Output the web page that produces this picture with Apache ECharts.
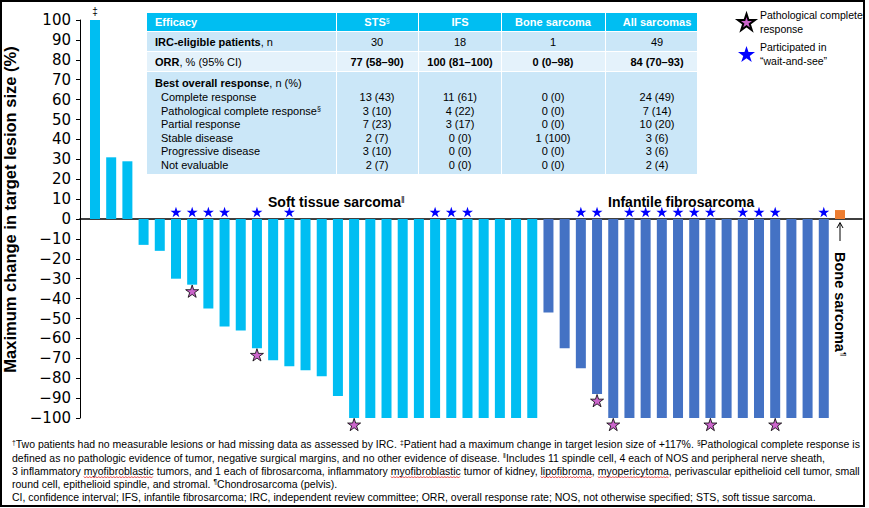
<!DOCTYPE html>
<html><head><meta charset="utf-8">
<script src="https://cdn.jsdelivr.net/npm/echarts@6/dist/echarts.min.js"></script>
<style>html,body{margin:0;padding:0;background:#fff}#c{width:869px;height:508px}</style>
</head><body><div id="c"></div><script>
// ---------- data ----------
const stsChange = [117, 31, 29, -13, -16, -30, -33, -45, -54, -56, -65, -71, -74, -76, -79, -89,
  -100, -100, -100, -100, -100, -100, -100, -100, -100, -100, -100, -100];
const ifsChange = [-47, -65, -75, -88, -100, -100, -100, -100, -100, -100, -100, -100, -100, -100,
  -100, -100, -100, -100];
const boneChange = [4.5];
// patient positions (0-based, left to right)
const pcrPatients = [6, 10, 16, 31, 32, 38, 42];
const waitAndSeePatients = [5, 6, 7, 8, 10, 12, 21, 22, 23, 30, 31, 33, 34, 35, 36, 37, 38, 40, 41, 42, 45];
const yMin = -100, yMax = 100, yInterval = 10;

const tableHeaders = ['Efficacy', 'STS§', 'IFS', 'Bone sarcoma', 'All sarcomas'];
const ircEligible = ['30', '18', '1', '49'];
const orrValues = ['77 (58–90)', '100 (81–100)', '0 (0–98)', '84 (70–93)'];
const responseLabels = ['Complete response', 'Pathological complete response§', 'Partial response',
  'Stable disease', 'Progressive disease', 'Not evaluable'];
const stsResponse = ['13 (43)', '3 (10)', '7 (23)', '2 (7)', '3 (10)', '2 (7)'];
const ifsResponse = ['11 (61)', '4 (22)', '3 (17)', '0 (0)', '0 (0)', '0 (0)'];
const boneResponse = ['0 (0)', '0 (0)', '0 (0)', '1 (100)', '0 (0)', '0 (0)'];
const allResponse = ['24 (49)', '7 (14)', '10 (20)', '3 (6)', '3 (6)', '2 (4)'];

const footnotes = [
  '†Two patients had no measurable lesions or had missing data as assessed by IRC. ‡Patient had a maximum change in target lesion size of +117%. §Pathological complete response is',
  'defined as no pathologic evidence of tumor, negative surgical margins, and no other evidence of disease. ‖Includes 11 spindle cell, 4 each of NOS and peripheral nerve sheath,',
  '3 inflammatory myofibroblastic tumors, and 1 each of fibrosarcoma, inflammatory myofibroblastic tumor of kidney, lipofibroma, myopericytoma, perivascular epithelioid cell tumor, small',
  'round cell, epithelioid spindle, and stromal. ¶Chondrosarcoma (pelvis).',
  'CI, confidence interval; IFS, infantile fibrosarcoma; IRC, independent review committee; ORR, overall response rate; NOS, not otherwise specified; STS, soft tissue sarcoma.'
];
const spellFlagged = ['myofibroblastic', 'lipofibroma', 'myopericytoma'];

// ---------- build ----------
const allChange = stsChange.concat(ifsChange, boneChange);
const STAR = 'path://M0,-10 L2.245,-3.09 L9.511,-3.09 L3.633,1.18 L5.878,8.09 L0,3.82 L-5.878,8.09 L-3.633,1.18 L-9.511,-3.09 L-2.245,-3.09 Z';
const FONT = "'Liberation Sans', Arial, sans-serif";
const sup = s => s.replace(/[†‡§‖¶]/g, m => '{s|' + m + '}');

const G = [];
function txt(x, y, text, o) {
  o = o || {};
  G.push({
    type: 'text', x: x, y: y, rotation: o.rotation || 0, scaleX: o.scaleX || 1, silent: true, z: 10,
    style: {
      text: text, fill: o.fill || '#000', fontFamily: FONT,
      fontSize: o.size || 11, fontWeight: o.weight || 'normal',
      align: o.align || 'left', verticalAlign: 'middle',
      rich: {
        s: { fontSize: o.supSize || 7, verticalAlign: 'top', fill: o.fill || '#000', fontFamily: FONT, fontWeight: 'normal' },
        b: { fontWeight: 'bold', fontSize: o.size || 11, fill: o.fill || '#000', fontFamily: FONT }
      }
    }
  });
}
function rect(x, y, w, h, fill) {
  G.push({ type: 'rect', shape: { x: x, y: y, width: w, height: h }, style: { fill: fill }, silent: true, z: 5 });
}

// table
const colX = [147, 336, 418, 501, 605, 697];
const rowY = [13, 32, 52, 72, 175];
const rowFill = ['#00BEF2', '#CBE7F8', '#E4F2FB', '#CBE7F8'];
for (let r = 0; r < 4; r++) {
  for (let c = 0; c < 5; c++) {
    rect(colX[c] + (c ? 1 : 0), rowY[r], colX[c + 1] - colX[c] - (c ? 1 : 0), rowY[r + 1] - rowY[r] - 1, rowFill[r]);
  }
}
const colCenter = [377, 460, 553, 657];
txt(155, 22, tableHeaders[0], { fill: '#fff', weight: 'bold' });
for (let c = 1; c < 5; c++) txt(colCenter[c - 1], 22, sup(tableHeaders[c]), { fill: '#fff', weight: 'bold', align: 'center' });
txt(155, 42, '{b|IRC-eligible patients}, n');
txt(155, 62, '{b|ORR}, % (95% CI)');
txt(155, 83, '{b|Best overall response}, n (%)');
for (let c = 0; c < 4; c++) {
  txt(colCenter[c], 42, ircEligible[c], { align: 'center' });
  txt(colCenter[c], 62, orrValues[c], { align: 'center', weight: 'bold' });
}
const respCols = [stsResponse, ifsResponse, boneResponse, allResponse];
const subY = [97, 110.5, 124, 137.5, 151, 164.5];
responseLabels.forEach((lab, i) => {
  txt(161, subY[i], sup(lab));
  respCols.forEach((col, c) => txt(colCenter[c], subY[i], col[i], { align: 'center' }));
});

// annotations
txt(95, 11, '‡', { size: 10, align: 'center' });
txt(268, 202, sup('Soft tissue sarcoma‖'), { size: 14, weight: 'bold', supSize: 9 });
txt(608, 202, 'Infantile fibrosarcoma', { size: 14, weight: 'bold' });
// arrow pointing up to the bone sarcoma bar
G.push({ type: 'polyline', shape: { points: [[840, 241], [840, 223]] }, style: { stroke: '#000', lineWidth: 1, fill: 'none' }, silent: true, z: 10 });
G.push({ type: 'polyline', shape: { points: [[837, 228], [840, 222.5], [843, 228]] }, style: { stroke: '#000', lineWidth: 1, fill: 'none' }, silent: true, z: 10 });
G.push({
  type: 'text', x: 840, y: 252, rotation: -Math.PI / 2, silent: true, z: 10,
  style: {
    text: '{b|Bone sarcoma}{s|¶}', fill: '#000', fontFamily: FONT, fontSize: 14.5,
    align: 'left', verticalAlign: 'middle',
    rich: {
      b: { fontSize: 14.5, fontWeight: 'bold', fontFamily: FONT, fill: '#000' },
      s: { fontSize: 8, verticalAlign: 'top', fontFamily: FONT, fill: '#000' }
    }
  }
});
// footnotes (condensed horizontally to fit the narrow reference face)
const mctx = document.createElement('canvas').getContext('2d');
mctx.font = '11px ' + FONT;
const fScale = 848 / mctx.measureText(footnotes[2]).width;
const footY = [444, 457.5, 470.5, 483.5, 496.5];
footnotes.forEach((f, i) => txt(12, footY[i], sup(f), { size: 11, supSize: 7, scaleX: fScale }));
// spelling-check wavy underlines on line 3
(function () {
  const line = footnotes[2];
  const found = [];
  spellFlagged.forEach(w => {
    let idx = line.indexOf(w, 0);
    while (idx >= 0) { found.push([idx, w]); idx = line.indexOf(w, idx + 1); }
  });
  found.forEach(([idx, w]) => {
    const x0 = 12 + fScale * mctx.measureText(line.slice(0, idx)).width;
    const wd = fScale * mctx.measureText(w).width;
    const pts = [];
    for (let k = 0, x = x0; x <= x0 + wd; k++, x += 1.5) pts.push([x, footY[2] + 6.5 + (k % 2 ? 1 : -0.5)]);
    G.push({ type: 'polyline', shape: { points: pts }, style: { stroke: '#E02020', lineWidth: 0.8, fill: 'none' }, silent: true, z: 9 });
  });
})();
// frame
G.push({ type: 'rect', shape: { x: 1, y: 1, width: 863, height: 505 }, style: { fill: 'none', stroke: '#000', lineWidth: 2 }, silent: true, z: 20 });

const chart = echarts.init(document.getElementById('c'), null, { renderer: 'svg' });
chart.setOption({
  animation: false,
  backgroundColor: '#fff',
  textStyle: { fontFamily: FONT },
  grid: { left: 80, right: 7, top: 20, bottom: 90, containLabel: false, outerBoundsMode: 'none' },
  legend: {
    orient: 'vertical', left: 732, top: 3, itemWidth: 17, itemHeight: 17, itemGap: 4,
    textStyle: { fontSize: 10.5, lineHeight: 14, color: '#000', fontFamily: FONT },
    data: ['Pathological complete\nresponse', 'Participated in\n“wait-and-see”'],
    selectedMode: false
  },
  xAxis: {
    type: 'value', min: -0.926, max: 47.36,
    axisLine: { onZero: true, lineStyle: { color: '#000', width: 1.5 } },
    axisTick: { show: false }, axisLabel: { show: false }, splitLine: { show: false }
  },
  yAxis: {
    type: 'value', min: yMin, max: yMax, interval: yInterval,
    name: 'Maximum change in target lesion size (%)', nameLocation: 'middle', nameGap: 50,
    nameTextStyle: { fontSize: 16.5, fontWeight: 'bold', color: '#000', fontFamily: FONT, padding: [0, 0, 0, 19] },
    axisLine: { show: true, onZero: false, lineStyle: { color: '#000', width: 1 } },
    axisTick: { show: true, length: 4, lineStyle: { color: '#000' } },
    axisLabel: { fontFamily: "'DejaVu Sans', sans-serif", fontSize: 15, color: '#000', margin: 9,
      formatter: v => String(v).replace('-', '−') },
    splitLine: { show: false }
  },
  series: [
    { type: 'bar', name: 'Soft tissue sarcoma', barWidth: 10, barGap: '-100%',
      itemStyle: { color: '#00BEF2' }, data: stsChange.map((v, i) => [i, v]) },
    { type: 'bar', name: 'Infantile fibrosarcoma', barWidth: 10, barGap: '-100%',
      itemStyle: { color: '#4472C4' }, data: ifsChange.map((v, i) => [stsChange.length + i, v]) },
    { type: 'bar', name: 'Bone sarcoma', barWidth: 10, barGap: '-100%',
      itemStyle: { color: '#ED7D31' }, data: boneChange.map((v, i) => [stsChange.length + ifsChange.length + i, v]) },
    { type: 'scatter', name: 'Pathological complete\nresponse', symbol: STAR, symbolKeepAspect: true,
      symbolSize: 13, symbolOffset: [0, 6.5], clip: false, z: 5,
      itemStyle: { color: '#CC66CC', borderColor: '#000', borderWidth: 0.8, opacity: 1 },
      data: pcrPatients.map(i => [i, allChange[i]]) },
    { type: 'scatter', name: 'Participated in\n“wait-and-see”', symbol: STAR, symbolKeepAspect: true,
      symbolSize: 11, symbolOffset: [0, -7], clip: false, z: 5,
      itemStyle: { color: '#0000FF', opacity: 1 },
      data: waitAndSeePatients.map(i => [i, 0]) }
  ],
  graphic: { elements: G }
});
</script></body></html>
